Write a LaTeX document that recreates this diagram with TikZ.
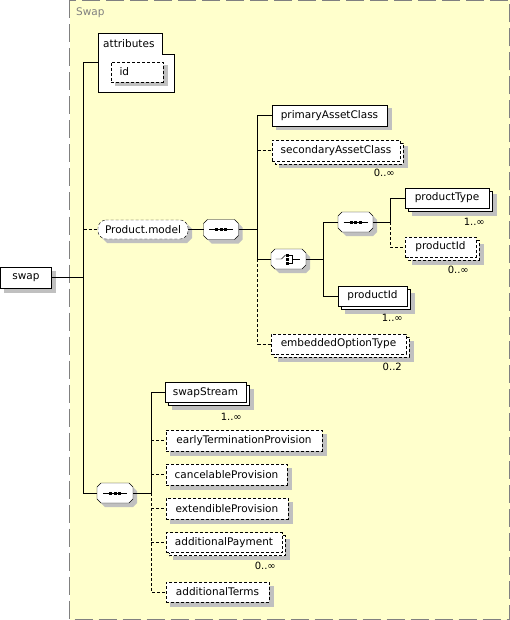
\documentclass[tikz,border=0pt]{standalone}
\usepackage{fontspec}
\setmainfont{DejaVu Sans}
\usetikzlibrary{calc}
\pgfdeclarelayer{bgl}
\pgfdeclarelayer{shadl}
\pgfdeclarelayer{frontl}
\pgfsetlayers{bgl,shadl,frontl,main}
\definecolor{bgyellow}{HTML}{FFFFCC}
\definecolor{shadowc}{HTML}{C0C0C0}
\definecolor{framegray}{HTML}{808080}
\newcommand\efont{\fontsize{10.5pt}{12pt}\selectfont}
\newcommand\mfont{\fontsize{10pt}{12pt}\selectfont}
% octagon through the anchors of node #1, chamfer #2, offset #3
\newcommand\octpath[3]{($(#1.north west)+(#2+#3,#3)$) -- ($(#1.north east)+(-#2+#3,#3)$) -- ($(#1.north east)+(#3,#2+#3)$) -- ($(#1.south east)+(#3,-#2+#3)$) -- ($(#1.south east)+(-#2+#3,#3)$) -- ($(#1.south west)+(#2+#3,#3)$) -- ($(#1.south west)+(#3,-#2+#3)$) -- ($(#1.north west)+(#3,#2+#3)$) -- cycle}
% compositor outline with shadow: [style]{node}{chamfer}
\newcommand\octbox[3][]{%
  \begin{pgfonlayer}{shadl}\fill[shadowc] \octpath{#2}{#3}{4};\end{pgfonlayer}
  \begin{pgfonlayer}{frontl}\draw[fill=white,#1] \octpath{#2}{#3}{0};\end{pgfonlayer}}
% element box: [style]{name}{cx}{cy}{w}{h}{text}
\newcommand\xelem[7][]{%
  \fill[shadowc] ({#3-#5/2+3.5},{#4-#6/2+3.5}) rectangle ({#3+#5/2+4.5},{#4+#6/2+4.5});
  \node[elem,#1,minimum width=#5pt,minimum height=#6pt] (#2) at (#3,#4) {#7};}
% repeated element (stacked boxes): [style]{name}{cx}{cy}{w}{h}{text}
\newcommand\xmulti[7][]{%
  \fill[shadowc] ({#3-#5/2+6.5},{#4-#6/2+6.5}) rectangle ({#3+#5/2+7.5},{#4+#6/2+7.5});
  \draw[fill=white,#1] ({#3-#5/2+3},{#4-#6/2+3}) rectangle ({#3+#5/2+3},{#4+#6/2+3});
  \node[elem,#1,minimum width=#5pt,minimum height=#6pt] (#2) at (#3,#4) {#7};}
\newcommand\seqmark[1]{%
  \draw ($(#1.center)+(-12,0)$) -- ($(#1.center)+(12,0)$);
  \foreach \dx in {-4.5,0,4.5} \fill ($(#1.center)+(\dx-1.5,-1.5)$) rectangle ++(3,3);}
\newcommand\choicemark[1]{%
  \draw ($(#1.center)+(-13,0)$) -- ($(#1.center)+(-7,0)$) -- ($(#1.center)+(-3,-4)$);
  \foreach \dy in {-4,0,4} \fill ($(#1.center)+(-2.5,\dy-1.5)$) rectangle ++(3,3);
  \draw ($(#1.center)+(0.5,-4)$) -- ($(#1.center)+(3.5,-4)$) -- ($(#1.center)+(3.5,4)$) -- ($(#1.center)+(0.5,4)$);
  \draw ($(#1.center)+(3.5,0)$) -- ($(#1.center)+(11,0)$);}
\tikzset{
  elem/.style={draw, fill=white, inner sep=0pt, outer sep=0pt, font=\efont, text=black},
  opt/.style={dash pattern=on 3pt off 2pt},
  comp/.style={inner sep=0pt, outer sep=0pt, minimum width=35pt, minimum height=20pt},
  optconn/.style={dash pattern=on 3pt off 2pt},
  mult/.style={font=\mfont, anchor=east, inner sep=0pt, text=black},
}
\begin{document}
\begin{tikzpicture}[x=1pt, y=-1pt, line width=1pt]
\useasboundingbox (0,0) rectangle (510,620);
% group frame
\begin{pgfonlayer}{bgl}
\draw[framegray, fill=bgyellow, dash pattern=on 18pt off 6pt] (69.5,0.5) rectangle (509.5,619.5);
\end{pgfonlayer}
\node[anchor=west, inner sep=0pt, text=framegray, font=\efont] (swaplabel) at (76,13) {Swap};

% attributes
\draw[fill=white] (98.5,33.5) -- (162,33.5) -- (162,54) -- (174,54) -- (174,92) -- (98.5,92) -- cycle;
\node[anchor=west, inner sep=0pt, font=\efont] (attributes) at (103,43.5) {attributes};
\xelem[opt, text width=35pt, align=left, inner xsep=8.5pt]{id}{137}{72}{52}{20}{id}

% root
\xelem{swap}{26}{277.5}{51}{21}{swap}

% Product.model group
\node[comp, minimum width=90pt, minimum height=19pt, font=\efont] (pm) at (143,229.5) {Product.model};
\octbox[opt, rounded corners=2.5pt]{pm}{5}
\node[comp] (seq1) at (221,229.5) {};
\octbox{seq1}{4}
\xelem{pac}{329.5}{115.5}{115}{21}{primaryAssetClass}
\xmulti[opt]{sac}{336}{150.5}{128}{21}{secondaryAssetClass}
\node[comp] (choice) at (288.5,259) {};
\octbox{choice}{4}
\node[comp] (seq2) at (355.5,222) {};
\octbox{seq2}{4}
\xmulti{ptype}{447}{198}{84}{20}{productType}
\xmulti[opt]{pid1}{440.5}{247}{71}{20}{productId}
\xmulti{pid2}{372.5}{296}{69}{20}{productId}
\xmulti[opt]{eot}{338.5}{344}{135}{20}{embeddedOptionType}

% swap content sequence
\node[comp, minimum width=36pt] (seq3) at (115,493) {};
\octbox{seq3}{4}
\xmulti{ss}{205.5}{392.5}{81}{20}{swapStream}
\xelem[opt]{etp}{244}{440.5}{156}{21}{earlyTerminationProvision}
\xelem[opt]{cp}{226.5}{474.5}{121}{21}{cancelableProvision}
\xelem[opt]{ep}{227}{508.5}{122}{21}{extendibleProvision}
\xmulti[opt]{ap}{224}{542.5}{116}{20}{additionalPayment}
\xelem[opt]{at}{217.5}{592}{103}{20}{additionalTerms}

% multiplicities
\node[mult] (msac) at (395,173) {0..∞};
\node[mult] (mptype) at (485,222) {1..∞};
\node[mult] (mpid1) at (469,270) {0..∞};
\node[mult] (mpid2) at (403,318) {1..∞};
\node[mult] (meot) at (402,367) {0..2};
\node[mult] (mss) at (242,417) {1..∞};
\node[mult] (map) at (276,566) {0..∞};

% compositor icons
\seqmark{seq1}
\seqmark{seq2}
\seqmark{seq3}
\choicemark{choice}

% junctions
\coordinate (t1) at (83.5,277.5);
\coordinate (t2) at (257.5,229.5);
\coordinate (t3) at (323,259);
\coordinate (t4) at (390,222);
\coordinate (t5) at (151,493);
\coordinate (ain) at (98.5,62.5);

% connectors
\draw (swap.east) -- (t1);
\draw (ain) -| (t1) |- (seq3.west);
\draw[optconn] (t1 |- pm.west) -- (pm.west);
\draw (pm.east) -- (seq1.west);
\draw (seq1.east) -- (t2);
\draw (pac.west) -| (t2 |- choice.west) -- (choice.west);
\draw[optconn] (t2 |- sac.west) -- (sac.west);
\draw[optconn] (t2 |- choice.west) |- (eot.west);
\draw (choice.east) -- (t3);
\draw (seq2.west) -| (t3 |- pid2.west) -- (pid2.west);
\draw (seq2.east) -- (t4);
\draw (ptype.west) -| (t4);
\draw[optconn] (t4) |- (pid1.west);
\draw (seq3.east) -- (t5);
\draw (ss.west) -| (t5);
\draw[optconn] (t5) |- (at.west);
\draw[optconn] (t5 |- etp.west) -- (etp.west);
\draw[optconn] (t5 |- cp.west) -- (cp.west);
\draw[optconn] (t5 |- ep.west) -- (ep.west);
\draw[optconn] (t5 |- ap.west) -- (ap.west);
\end{tikzpicture}
\end{document}
